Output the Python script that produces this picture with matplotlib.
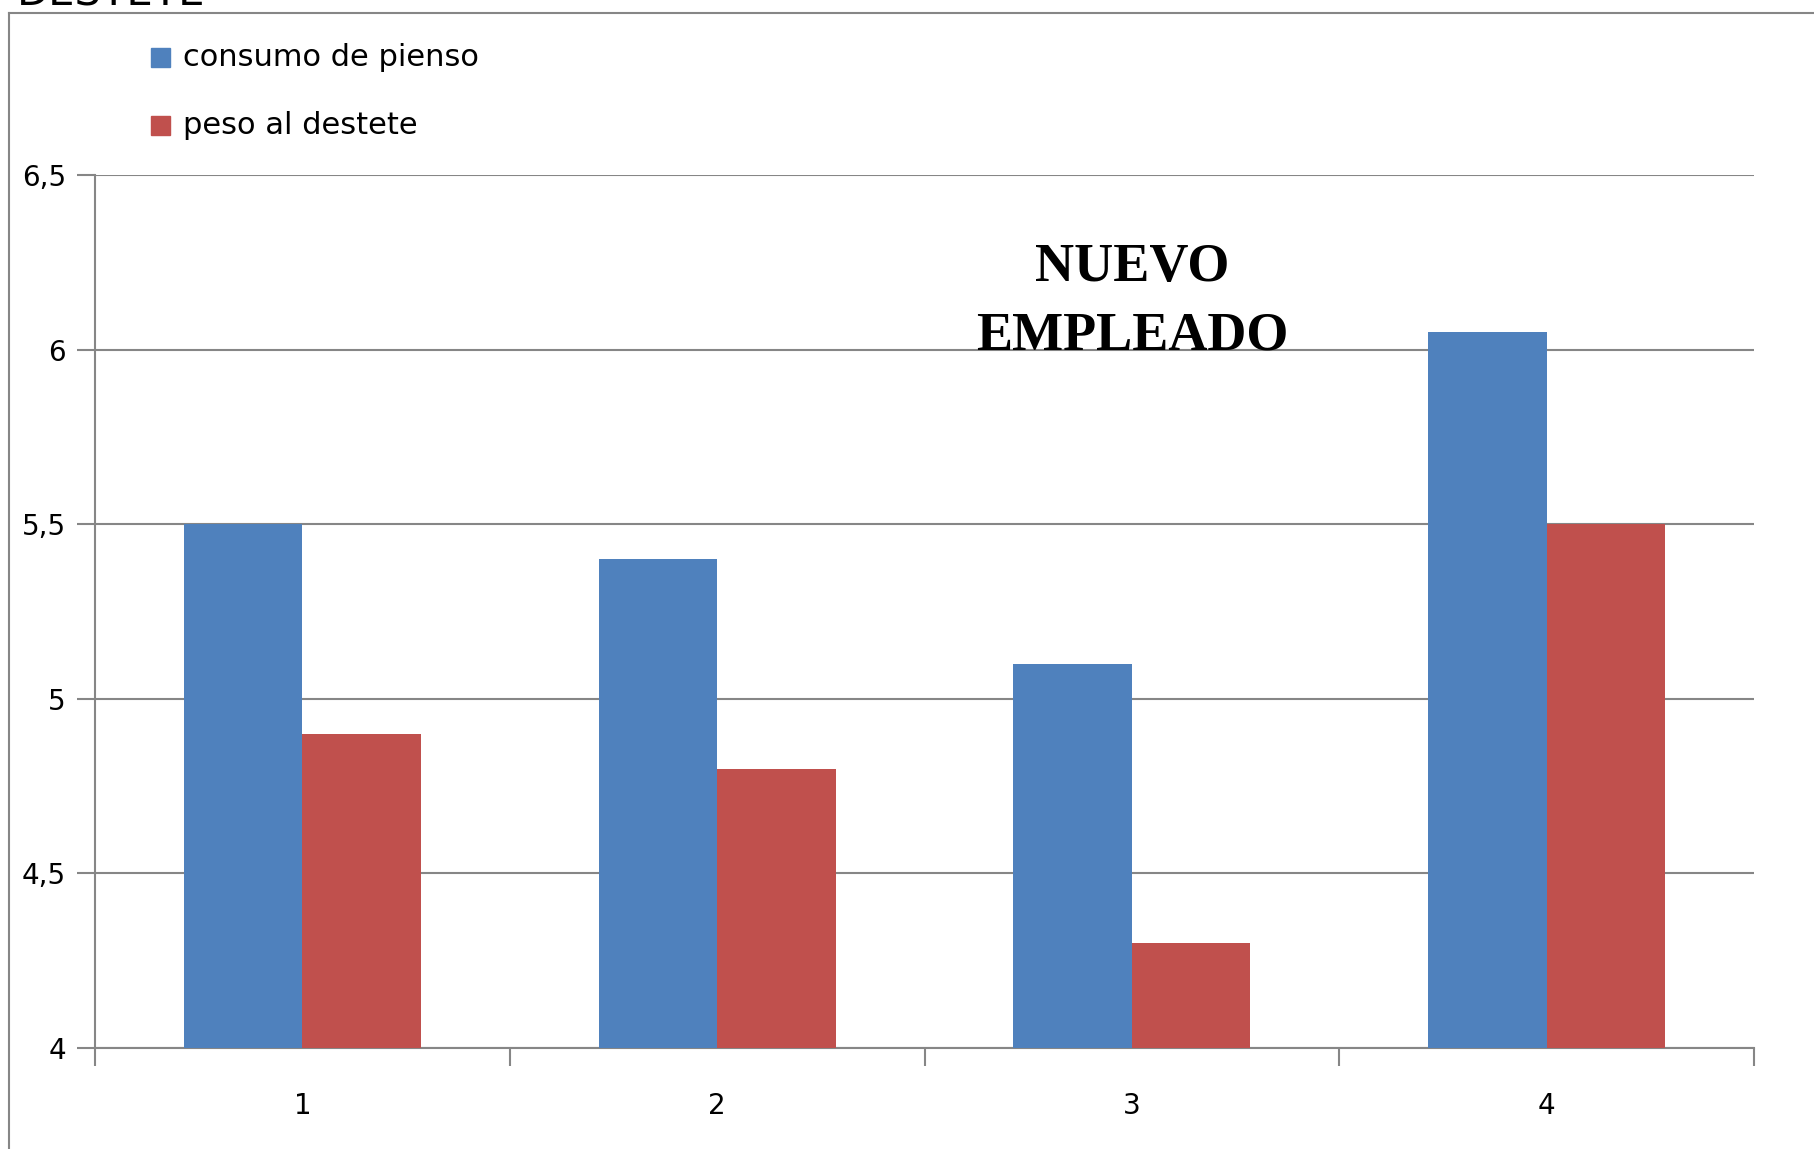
import matplotlib
matplotlib.use("Agg")
import matplotlib.pyplot as plt
from matplotlib.lines import Line2D
from matplotlib.patches import Rectangle
import matplotlib.ticker as ticker
import numpy as np

# datos
categorias = ["1", "2", "3", "4"]
consumo_pienso = [5.5, 5.4, 5.1, 6.05]
peso_destete = [4.9, 4.8, 4.3, 5.5]
y_ticks = [4, 4.5, 5, 5.5, 6, 6.5]
y_labels = ["4", "4,5", "5", "5,5", "6", "6,5"]

AZUL = "#4F81BD"
ROJO = "#C0504D"
GRIS = "#868686"
W, H = 1814, 1149

plt.rcParams["font.family"] = ["DejaVu Sans"]

fig = plt.figure(figsize=(W / 100, H / 100), dpi=100)
ax = fig.add_axes([95 / W, 1 - 1048 / H, (1754 - 95) / W, (1048 - 175) / H])

x = np.arange(1, len(categorias) + 1)
w = 1 / 3.5
ax.bar(x - w / 2, consumo_pienso, width=w, color=AZUL, zorder=3)
ax.bar(x + w / 2, peso_destete, width=w, color=ROJO, zorder=3)

ax.set_xlim(0.5, len(categorias) + 0.5)
ax.set_ylim(4, 6.5)
ax.set_yticks(y_ticks)
ax.set_yticklabels(y_labels, fontsize=20)
ax.yaxis.grid(True, color=GRIS, linewidth=1.5, zorder=0)
ax.tick_params(axis="y", length=13, width=1.5, color=GRIS, pad=8)

ax.set_xticks(x)
ax.set_xticklabels(categorias, fontsize=20)
ax.xaxis.set_minor_locator(ticker.FixedLocator(np.arange(0.5, len(categorias) + 1, 1)))
ax.tick_params(axis="x", which="major", length=0, pad=32)
ax.tick_params(axis="x", which="minor", length=13, width=1.5, color=GRIS)

for s in ["top", "right"]:
    ax.spines[s].set_visible(False)
for s in ["left", "bottom"]:
    ax.spines[s].set_color(GRIS)
    ax.spines[s].set_linewidth(1.5)

# anotacion
ax.text(3.0, 6.196, "NUEVO", ha="center", va="baseline",
        family="Liberation Serif", fontweight="bold", fontsize=39, zorder=4)
ax.text(3.0, 6.0, "EMPLEADO", ha="center", va="baseline",
        family="Liberation Serif", fontweight="bold", fontsize=39, zorder=4)

# leyenda manual
for i, (lab, col) in enumerate([("consumo de pienso", AZUL), ("peso al destete", ROJO)]):
    yc = [58, 126][i]
    fig.add_artist(Rectangle((151 / W, 1 - (yc + 9) / H), 19 / W, 19 / H,
                             color=col, transform=fig.transFigure))
    fig.text(183 / W, 1 - yc / H, lab, fontsize=22, va="center", ha="left")

# marco del area del grafico (recortado)
fig.add_artist(Line2D([9 / W, 9 / W], [0, 1 - 13 / H], color=GRIS, lw=1.5))
fig.add_artist(Line2D([9 / W, 1], [1 - 13 / H, 1 - 13 / H], color=GRIS, lw=1.5))

# titulo cortado arriba
fig.text(17 / W, 1 - 5 / H, "DESTETE", fontsize=30, va="baseline", ha="left")

fig.savefig("out.png", dpi=100)
